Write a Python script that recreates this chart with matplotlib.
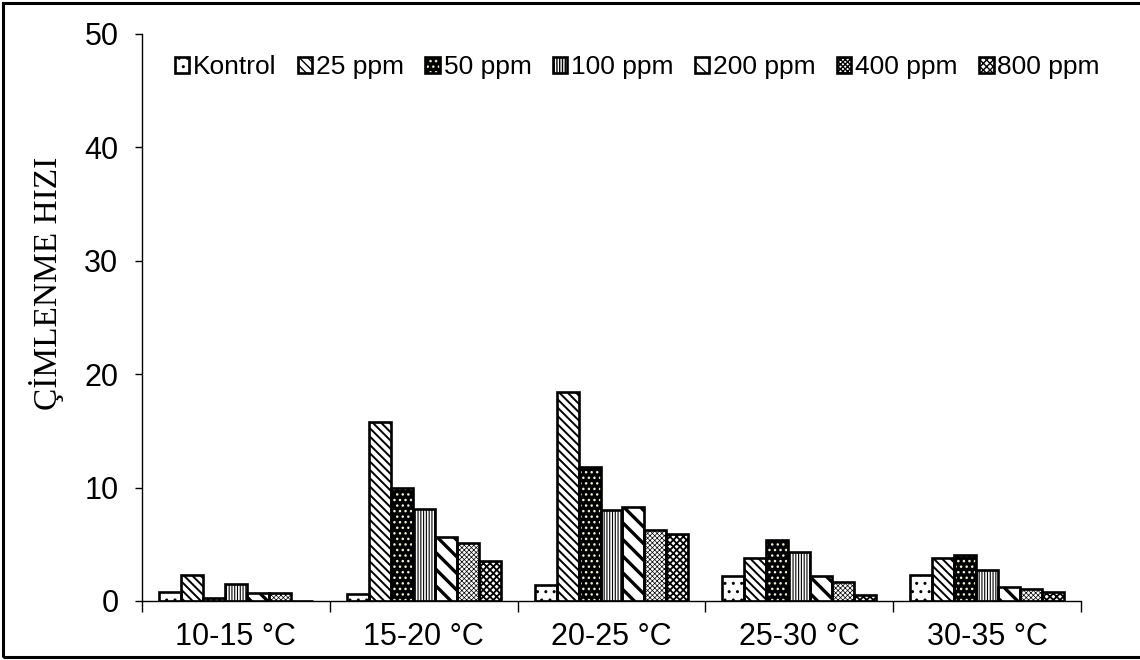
import matplotlib
matplotlib.use("Agg")
import matplotlib.pyplot as plt
import numpy as np
from matplotlib.patches import Rectangle
from matplotlib.legend_handler import HandlerTuple

# Çimlenme hızı, sıcaklık aralıklarına ve dozlara göre
sicaklik = ["10-15 °C", "15-20 °C", "20-25 °C", "25-30 °C", "30-35 °C"]
dozlar = ["Kontrol", "25 ppm", "50 ppm", "100 ppm", "200 ppm", "400 ppm", "800 ppm"]

kontrol = [0.8, 0.6, 1.4, 2.2, 2.3]
ppm25 = [2.3, 15.8, 18.4, 3.8, 3.8]
ppm50 = [0.3, 10.0, 11.8, 5.4, 4.1]
ppm100 = [1.5, 8.1, 8.0, 4.3, 2.7]
ppm200 = [0.7, 5.6, 8.3, 2.2, 1.2]
ppm400 = [0.7, 5.1, 6.3, 1.7, 1.1]
ppm800 = [0.0, 3.5, 5.9, 0.5, 0.8]
seriler = [kontrol, ppm25, ppm50, ppm100, ppm200, ppm400, ppm800]

# (dolgu rengi, tarama, tarama rengi, tarama kalınlığı)
desenler = [
    ("white", "..", "black", 1.0),
    ("white", "\\\\\\\\", "black", 1.4),
    ("black", "...", "#f0f0d8", 1.0),
    ("white", "||||||", "black", 0.8),
    ("white", "\\\\", "black", 2.4),
    ("white", "xxxxxxx", "black", 0.5),
    ("white", "xxxxx", "black", 1.3),
]

plt.rcParams["font.family"] = ["Liberation Sans", "DejaVu Sans"]

fig = plt.figure(figsize=(11.4, 6.6), dpi=100)
ax = fig.add_axes([0.1246, 0.0894, 0.9482 - 0.1246, 0.9485 - 0.0894])

x = np.arange(len(sicaklik))
w = 0.117
handles = []
for j, (vals, (fc, hatch, hc, hlw)) in enumerate(zip(seriler, desenler)):
    pos = x + (j - 3) * w
    with plt.rc_context({"hatch.linewidth": hlw}):
        fill = ax.bar(pos, vals, w, color=fc, edgecolor=hc, hatch=hatch,
                      linewidth=0, zorder=2)
    edge = ax.bar(pos, vals, w, fill=False, edgecolor="black",
                  linewidth=1.9, zorder=3)
    handles.append((fill.patches[0], edge.patches[0]))

ax.set_xlim(-0.5, 4.5)
ax.set_ylim(0, 50)
ax.set_yticks(range(0, 51, 10))
ax.set_xticks(x)
ax.set_xticklabels(sicaklik)
ax.set_xticks(np.arange(-0.5, 5, 1), minor=True)
ax.tick_params(axis="x", which="major", length=0, pad=15, labelsize=22)
ax.tick_params(axis="x", which="minor", length=8, width=1, direction="out")
ax.tick_params(axis="y", length=5, width=1, pad=12, labelsize=22)

for s in ["top", "right"]:
    ax.spines[s].set_visible(False)
for s in ["left", "bottom"]:
    ax.spines[s].set_linewidth(1)

fig.text(0.041, 0.571, "ÇİMLENME HIZI", rotation=90, ha="center", va="center",
         fontsize=24, family=["Liberation Serif", "DejaVu Serif"])

fig.legend(handles, dozlar, loc="center", bbox_to_anchor=(0.559, 0.898),
           ncol=7, frameon=False, fontsize=19,
           handler_map={tuple: HandlerTuple(ndivide=1)},
           handlelength=0.55, handleheight=0.55, handletextpad=0.15,
           columnspacing=0.8, borderpad=0)

# çerçeve
fig.patches.append(Rectangle((0.003, 0.004), 1.2, 0.991, transform=fig.transFigure,
                             fill=False, edgecolor="black", linewidth=2.2))

fig.savefig("out.png", dpi=100)
